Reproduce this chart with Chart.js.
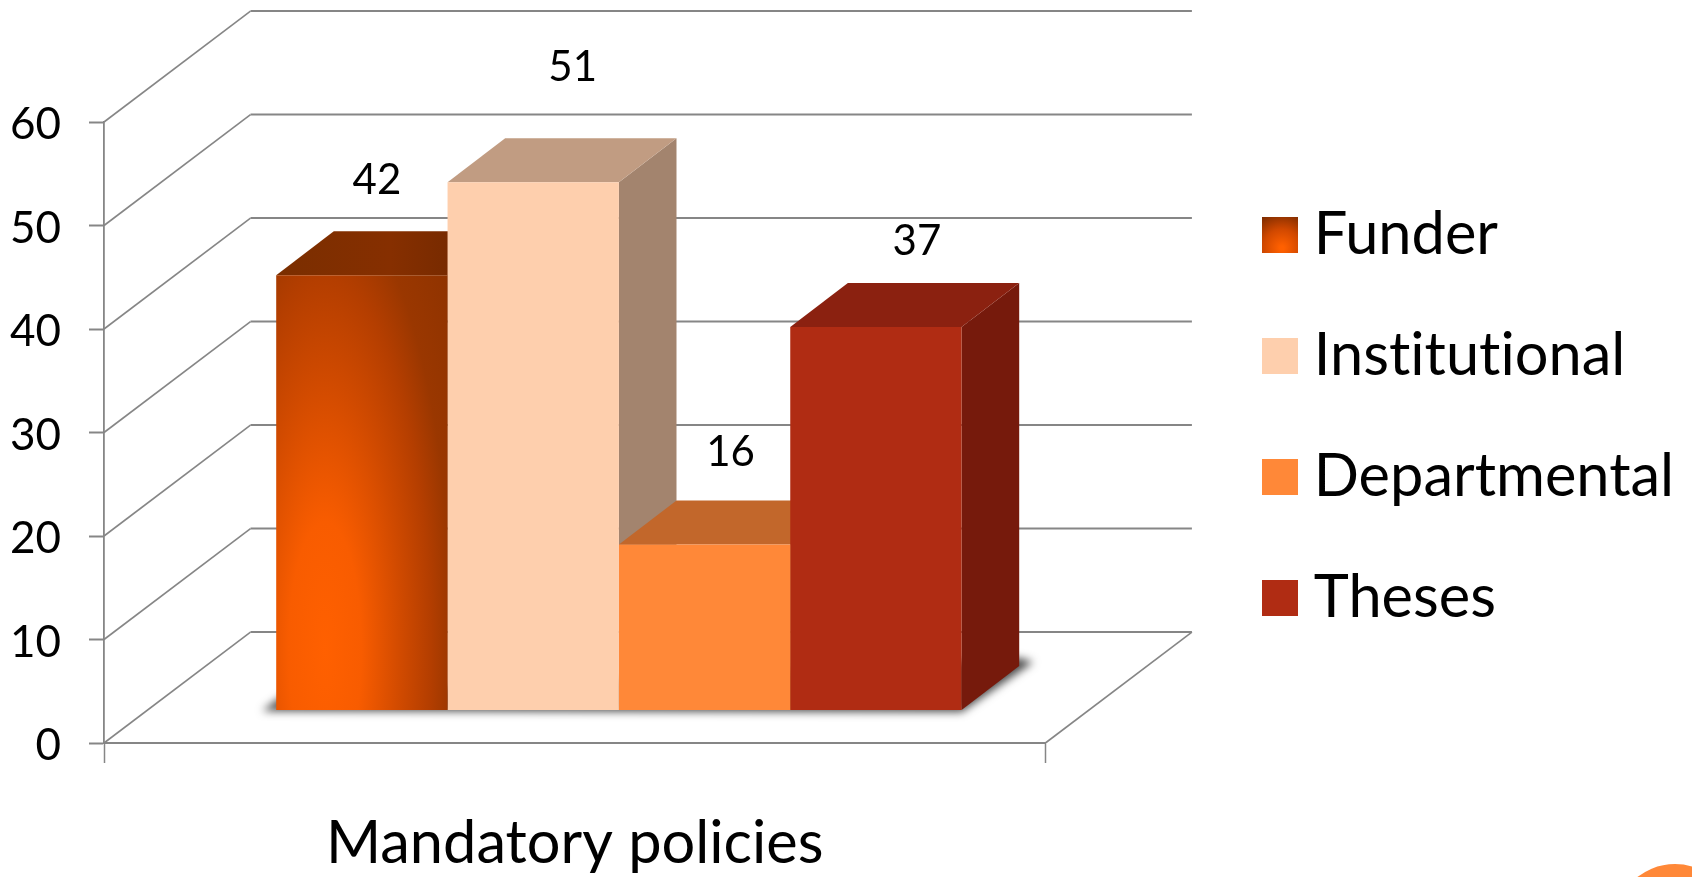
<!DOCTYPE html>
<html>
<head>
<meta charset="utf-8">
<style>html,body{margin:0;padding:0;background:#fff;overflow:hidden}canvas{display:block}</style>
<script src="https://cdn.jsdelivr.net/npm/chart.js@4/dist/chart.umd.min.js"></script>
</head>
<body>
<canvas id="c" width="1692" height="877"></canvas>
<script>
// ---- data ----
const categories = ['Mandatory policies'];
const seriesNames = ['Funder', 'Institutional', 'Departmental', 'Theses'];
const funderValues = [42];
const institutionalValues = [51];
const departmentalValues = [16];
const thesesValues = [37];
const yTickStep = 10;
const yMax = 60;

// ---- style ----
const FONT = 'Lato, Carlito, sans-serif';
const AXIS = '#868686';
const frontColors = [null, '#FECFAD', '#FF8838', '#B02C13'];
const topColors = ['#7C2E00', '#C19C82', '#C2672B', '#8B2110'];
const sideColors = ['#6A2600', '#A3846E', '#A8581F', '#761A0C'];
const labelOffsets = [[15, -95], [39.5, -115], [26, -91.7], [41, -85.5]];
const DEPTH_X = 57.6, DEPTH_Y = 44;       // bar depth
const WALL_X = 146.5, WALL_Y = 110.9;     // floor depth
const BAR_SHIFT_X = 44.2;                 // bars sit inside the floor
const BAR_RAISE = 33;                     // px between axis plane and bar plane
const PX_PER_UNIT = 621 / yMax;

// elliptical shading of the Funder bar
function funderPattern() {
  const off = document.createElement('canvas');
  off.width = 1692; off.height = 877;
  const g = off.getContext('2d');
  g.save();
  g.translate(325, 650);
  g.scale(140 * 1.3, 493 * 1.3);
  const r = g.createRadialGradient(0, 0, 0, 0, 0, 1);
  r.addColorStop(0, '#FF6000');
  r.addColorStop(0.2, '#F85C00');
  r.addColorStop(0.42, '#D04A00');
  r.addColorStop(0.58, '#B43E00');
  r.addColorStop(0.7, '#9A3700');
  r.addColorStop(1, '#8A3100');
  g.fillStyle = r;
  g.fillRect(-20, -20, 40, 40);
  g.restore();
  return g.createPattern(off, 'no-repeat');
}

const ctx = document.getElementById('c').getContext('2d');
const fills = frontColors.slice();
fills[0] = funderPattern();

function swatch(i) {
  if (i > 0) return frontColors[i];
  const r = ctx.createRadialGradient(1282, 248, 2, 1282, 248, 36);
  r.addColorStop(0, '#FF6000');
  r.addColorStop(0.5, '#D04800');
  r.addColorStop(1, '#7E2C00');
  return r;
}

const depthPlugin = {
  id: 'depth',
  beforeDraw(chart) {
    // no "ti" ligature in the text
    chart.ctx.letterSpacing = '0.01px';
  },
  afterDatasetsUpdate(chart) {
    chart.getSortedVisibleDatasetMetas().forEach(m => m.data.forEach(el => { el.x += BAR_SHIFT_X; }));
  },
  afterLayout(chart) {
    const l = chart.legend;
    l.left = 1214.5; l.right = 1692; l.top = 143.75; l.bottom = 877;
  },
  beforeDatasetsDraw(chart) {
    const c = chart.ctx, y = chart.scales.y, x = chart.scales.x;
    const L = x.left, R = x.right;
    c.save();
    c.strokeStyle = AXIS;
    y.ticks.forEach(t => {
      const py = y.getPixelForValue(t.value);
      c.beginPath();
      c.lineWidth = 1.6;
      c.moveTo(L, py);
      c.lineTo(L + WALL_X, py - WALL_Y);
      c.stroke();
      c.beginPath();
      c.lineWidth = 2;
      c.moveTo(L + WALL_X, py - WALL_Y);
      c.lineTo(R + WALL_X, py - WALL_Y);
      c.stroke();
    });
    c.beginPath();
    c.lineWidth = 1.6;
    const y0 = y.getPixelForValue(0);
    c.moveTo(R, y0);
    c.lineTo(R + WALL_X, y0 - WALL_Y);
    c.stroke();

    const metas = chart.getSortedVisibleDatasetMetas();
    const els = metas.map(m => m.data[0]);
    const first = els[0], last = els[els.length - 1];
    const fl = first.x - first.width / 2, lr = last.x + last.width / 2, b = first.base;

    // soft cast shadow on the floor (only the blur is painted)
    c.save();
    c.shadowColor = 'rgba(0,0,0,0.7)';
    c.shadowBlur = 9;
    c.shadowOffsetX = 4000;
    c.fillStyle = '#000';
    c.beginPath();
    c.moveTo(fl - 14 - 4000, b + 1);
    c.lineTo(lr - 4000, b + 2);
    c.lineTo(lr + DEPTH_X + 14 - 4000, b - DEPTH_Y - 4);
    c.lineTo(lr + DEPTH_X - 4000, b - DEPTH_Y - 8);
    c.lineTo(fl + 6 - 4000, b - 14);
    c.closePath();
    c.fill();
    c.restore();

    // depth faces, left to right; the library paints the front faces on top
    els.forEach((el, i) => {
      const l = el.x - el.width / 2, r = el.x + el.width / 2, t = el.y, bb = el.base;
      c.fillStyle = sideColors[i];
      c.beginPath();
      c.moveTo(r, t); c.lineTo(r + DEPTH_X, t - DEPTH_Y);
      c.lineTo(r + DEPTH_X, bb - DEPTH_Y); c.lineTo(r, bb);
      c.closePath(); c.fill();
      if (i === 0) {
        const g = c.createLinearGradient(l, 0, r + DEPTH_X, 0);
        g.addColorStop(0, '#7A2E00'); g.addColorStop(0.5, '#862F00'); g.addColorStop(1, '#6A2600');
        c.fillStyle = g;
      } else c.fillStyle = topColors[i];
      c.beginPath();
      c.moveTo(l, t); c.lineTo(r, t);
      c.lineTo(r + DEPTH_X, t - DEPTH_Y); c.lineTo(l + DEPTH_X, t - DEPTH_Y);
      c.closePath(); c.fill();
    });
    c.restore();
  },
  afterDatasetsDraw(chart) {
    const c = chart.ctx;
    c.save();
    c.font = '42px ' + FONT;
    c.fillStyle = '#000';
    c.textAlign = 'center';
    c.textBaseline = 'middle';
    chart.getSortedVisibleDatasetMetas().forEach((m, i) => {
      const el = m.data[0];
      const v = chart.data.datasets[m.index].data[0];
      c.fillText(String(v), el.x + labelOffsets[i][0], el.y + labelOffsets[i][1]);
    });
    c.restore();
  },
  afterDraw(chart) {
    // slide decoration in the lower right corner
    const c = chart.ctx;
    c.save();
    c.fillStyle = '#FF8838';
    c.beginPath();
    c.arc(1675, 925, 61, 0, Math.PI * 2);
    c.fill();
    c.restore();
  }
};

const allValues = [funderValues, institutionalValues, departmentalValues, thesesValues];

new Chart(ctx, {
  type: 'bar',
  data: {
    labels: categories,
    datasets: seriesNames.map((name, i) => ({
      label: name,
      data: allValues[i],
      yAxisID: 'yBars',
      xAxisID: 'x',
      backgroundColor: fills[i],
      borderWidth: 0,
      barPercentage: 1,
      categoryPercentage: 685.4 / 941.4
    }))
  },
  options: {
    responsive: false,
    animation: false,
    events: [],
    layout: { padding: { left: 0, top: 122, bottom: 0, right: 346.6 } },
    scales: {
      x: {
        type: 'category',
        afterFit(s) { s.height = 134; },
        border: { display: true, color: AXIS, width: 2 },
        grid: { display: true, drawOnChartArea: false, drawTicks: true, tickLength: 20, tickColor: AXIS, tickWidth: 1.5, color: AXIS },
        ticks: { color: '#000', font: { family: FONT, size: 59.5 }, padding: 45, maxRotation: 0 }
      },
      y: {
        type: 'linear',
        min: 0, max: yMax,
        afterFit(s) { s.width = 104; },
        border: { display: true, color: AXIS, width: 1.8 },
        grid: { display: true, drawOnChartArea: false, drawTicks: true, tickLength: 15, tickColor: AXIS, tickWidth: 2, color: AXIS },
        ticks: { stepSize: yTickStep, color: '#000', font: { family: FONT, size: 44 }, padding: 28, labelOffset: 3 }
      },
      yBars: {
        type: 'linear',
        display: false,
        min: -BAR_RAISE / PX_PER_UNIT,
        max: yMax - BAR_RAISE / PX_PER_UNIT
      }
    },
    plugins: {
      tooltip: { enabled: false },
      title: { display: false },
      legend: {
        display: true,
        position: 'right',
        align: 'start',
        maxWidth: 300,
        labels: {
          color: '#000',
          font: { family: FONT, size: 59.5 },
          boxWidth: 8,
          boxHeight: 8,
          padding: 61.5,
          generateLabels(chart) {
            return chart.data.datasets.map((d, i) => ({
              text: d.label,
              fillStyle: swatch(i),
              strokeStyle: swatch(i),
              lineWidth: 28,
              fontColor: '#000',
              datasetIndex: i
            }));
          }
        }
      }
    }
  },
  plugins: [depthPlugin]
});
</script>
</body>
</html>
